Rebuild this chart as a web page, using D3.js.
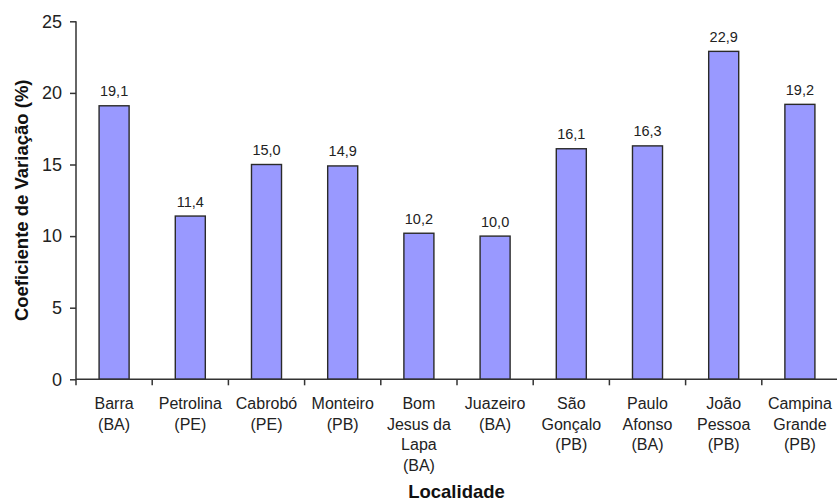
<!DOCTYPE html>
<html>
<head>
<meta charset="utf-8">
<script src="https://cdn.jsdelivr.net/npm/d3@7"></script>
<style>
  html, body { margin: 0; padding: 0; background: #fff; }
  svg { display: block; font-family: "Liberation Sans", Arial, sans-serif; }
</style>
</head>
<body>
<svg id="chart" width="837" height="503"></svg>
<script>
// Localities (each entry is the list of label lines)
const categories = [
  ["Barra", "(BA)"],
  ["Petrolina", "(PE)"],
  ["Cabrobó", "(PE)"],
  ["Monteiro", "(PB)"],
  ["Bom", "Jesus da", "Lapa", "(BA)"],
  ["Juazeiro", "(BA)"],
  ["São", "Gonçalo", "(PB)"],
  ["Paulo", "Afonso", "(BA)"],
  ["João", "Pessoa", "(PB)"],
  ["Campina", "Grande", "(PB)"]
];
// Coefficient of variation (%)
const values = [19.1, 11.4, 15.0, 14.9, 10.2, 10.0, 16.1, 16.3, 22.9, 19.2];
const yTicks = [0, 5, 10, 15, 20, 25];

const svg = d3.select("#chart");
const margin = { left: 76, right: -1, top: 21.3, bottom: 123.7 };
const W = 837, H = 503;
const x0 = margin.left, x1 = W - margin.right;
const y0 = H - margin.bottom, y1 = margin.top;

const keys = categories.map((c, i) => i);
const x = d3.scaleBand().domain(keys).range([x0, x1]).paddingInner(0.606).paddingOuter(0.303);
const xb = d3.scaleBand().domain(keys).range([x0, x1]);
const y = d3.scaleLinear().domain([0, 25]).range([y0, y1]);

const fmt = v => v.toFixed(1).replace(".", ",");

// Bars
svg.append("g").selectAll("rect").data(values).join("rect")
  .attr("x", (d, i) => x(i))
  .attr("y", d => y(d))
  .attr("width", x.bandwidth())
  .attr("height", d => y(0) - y(d))
  .attr("fill", "#9999ff")
  .attr("stroke", "#2a2a2a")
  .attr("stroke-width", 1.4);

// Value labels
svg.append("g").selectAll("text").data(values).join("text")
  .attr("x", (d, i) => x(i) + x.bandwidth() / 2)
  .attr("y", d => y(d) - 9.5)
  .attr("text-anchor", "middle")
  .attr("font-size", 14.5)
  .attr("fill", "#222")
  .text(d => fmt(d));

// Y axis
const yAxis = svg.append("g")
  .attr("transform", `translate(${x0},0)`)
  .call(d3.axisLeft(y).tickValues(yTicks).tickSize(6).tickPadding(8).tickFormat(d3.format("d")));
yAxis.select(".domain").attr("stroke", "#333").attr("stroke-width", 1.5).attr("d", `M0,${y1}V${y0}`);
yAxis.selectAll(".tick line").attr("stroke", "#333").attr("stroke-width", 1.5);
yAxis.selectAll(".tick text").attr("font-size", 18).attr("fill", "#222")
  .attr("font-family", "Liberation Sans, Arial, sans-serif");

// X axis: ticks on the category boundaries
const xAxis = svg.append("g").attr("transform", `translate(0,${y0})`);
xAxis.append("line").attr("x1", x0).attr("x2", W).attr("y1", 0).attr("y2", 0)
  .attr("stroke", "#333").attr("stroke-width", 1.5);
xAxis.selectAll("line.tk").data(keys).join("line").attr("class", "tk")
  .attr("x1", i => xb(i)).attr("x2", i => xb(i))
  .attr("y1", 0).attr("y2", 6)
  .attr("stroke", "#333").attr("stroke-width", 1.5);

// Category labels
const lab = svg.append("g").selectAll("text").data(categories).join("text")
  .attr("x", (d, i) => xb(i) + xb.bandwidth() / 2)
  .attr("y", y0 + 30)
  .attr("text-anchor", "middle")
  .attr("font-size", 16)
  .attr("fill", "#222");
lab.selectAll("tspan").data(d => d).join("tspan")
  .attr("x", function () { return d3.select(this.parentNode).attr("x"); })
  .attr("dy", (d, j) => j === 0 ? 0 : 20.5)
  .text(d => d);

// Axis titles
svg.append("text")
  .attr("x", (x0 + W) / 2)
  .attr("y", 498)
  .attr("text-anchor", "middle")
  .attr("font-size", 18.5)
  .attr("font-weight", "bold")
  .attr("fill", "#111")
  .text("Localidade");

svg.append("text")
  .attr("transform", `translate(27.5,${(y0 + y1) / 2}) rotate(-90)`)
  .attr("text-anchor", "middle")
  .attr("font-size", 18.5)
  .attr("font-weight", "bold")
  .attr("fill", "#111")
  .text("Coeficiente de Variação (%)");
</script>
</body>
</html>
